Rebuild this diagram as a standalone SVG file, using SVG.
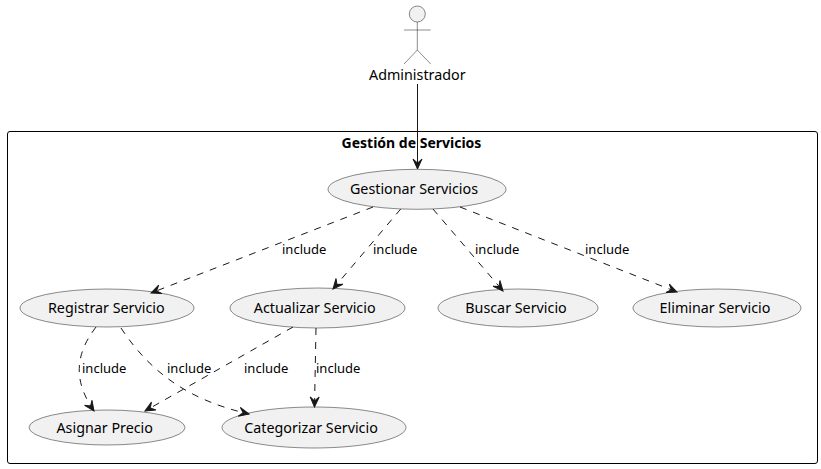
<svg xmlns="http://www.w3.org/2000/svg" width="821" height="469" viewBox="0 0 821 469">
<defs><marker id="a" markerUnits="userSpaceOnUse" markerWidth="14" markerHeight="12" refX="12" refY="5" orient="auto" overflow="visible"><path d="M12 5L2 .5 6 5 2 9.500Z" fill="#181818" stroke="#181818" stroke-width="1"/></marker></defs>
<style>
text{font-family:"Noto Sans","DejaVu Sans",sans-serif;fill:#000}
.n{font-size:14.300px;text-anchor:middle}
.l{font-size:13px}
ellipse,.actor{fill:#F1F1F1;stroke:#181818;stroke-width:.5}
.c{fill:none;stroke:#181818;stroke-width:1;stroke-dasharray:7 7;marker-end:url(#a)}
.s{fill:none;stroke:#181818;stroke-width:1}
</style>
<rect width="821" height="469" fill="#fff"/>
<g id="boundary"><rect x="7.500" y="131.500" width="810" height="332" rx="2.500" fill="none" stroke="#000" stroke-width="1"/><text x="411.500" y="148" font-size="14" font-weight="700" text-anchor="middle">Gestión de Servicios</text></g>
<g id="gestionar"><ellipse cx="417" cy="189.300" rx="89" ry="20"/><text class="n" x="414" y="194">Gestionar Servicios</text></g>
<g id="registrar"><ellipse cx="107" cy="308" rx="87" ry="19"/><text class="n" x="106.300" y="313">Registrar Servicio</text></g>
<g id="actualizar"><ellipse cx="317.500" cy="308" rx="87.500" ry="20"/><text class="n" x="314.700" y="313">Actualizar Servicio</text></g>
<g id="buscar"><ellipse cx="518" cy="308" rx="80" ry="19"/><text class="n" x="516" y="313">Buscar Servicio</text></g>
<g id="eliminar"><ellipse cx="717" cy="308" rx="84" ry="19"/><text class="n" x="715" y="313">Eliminar Servicio</text></g>
<g id="asignar"><ellipse cx="107" cy="427.500" rx="78" ry="17.500"/><text class="n" x="104.700" y="433">Asignar Precio</text></g>
<g id="categorizar"><ellipse cx="314" cy="427.500" rx="92" ry="20.500"/><text class="n" x="311" y="433">Categorizar Servicio</text></g>
<g id="connectors">
<path class="s" style="marker-end:url(#a)" d="M417.500 84V169"/>
<path class="c" d="M373 207L151 293"/>
<path class="c" d="M400.700 209L333 289"/>
<path class="c" d="M433 209L503 291"/>
<path class="c" d="M460 207L677 292"/>
<path class="c" d="M96 327C72 358 76 385 94 411"/>
<path class="c" d="M121 328C150 372 188 400 249 414"/>
<path class="c" d="M293 327L145 411"/>
<path class="c" d="M316 328L314.500 407"/>
</g>
<g id="actor"><circle class="actor" cx="417.300" cy="14" r="8"/><path class="s" style="stroke-width:.5" d="M417.300 22V50M404 30H430.700M417.300 50L404 64M417.300 50L430.700 64"/><text class="n" x="417.300" y="80">Administrador</text></g>
<g id="labels">
<text class="l" x="282" y="254">include</text><text class="l" x="373" y="254">include</text><text class="l" x="475" y="254">include</text><text class="l" x="585" y="254">include</text>
<text class="l" x="82" y="373">include</text><text class="l" x="167" y="373">include</text><text class="l" x="244" y="373">include</text><text class="l" x="316" y="373">include</text>
</g>
</svg>
